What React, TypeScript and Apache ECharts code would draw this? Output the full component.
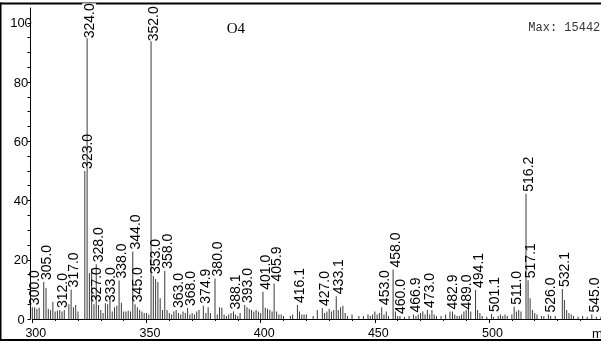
import React, { useEffect, useRef } from "react";
import * as echarts from "echarts";

// m/z of every peak drawn
const mzValues = [
  300.0, 301, 302, 303, 305.0, 306, 307, 308, 309, 310, 311, 312.0, 313, 314, 316, 317.0, 318, 319, 320,
  323.0, 324.0, 325, 326, 327.0, 328.0, 329, 330, 331, 332, 333.0, 334, 335, 336, 337, 338.0, 339, 340,
  341, 342, 343, 344.0, 345.0, 346, 347, 348, 349, 350, 351, 352.0, 353.0, 354, 355, 356, 357, 358.0,
  359, 360, 361, 362, 363.0, 364, 365, 366, 367, 368.0, 369, 370, 371, 372, 373, 374.9, 376, 377, 378,
  380.0, 381, 382, 383, 384, 385, 386, 387, 388.1, 389, 390, 391, 393.0, 394, 395, 396, 397, 398, 399,
  400, 401.0, 402, 403, 404, 405, 405.9, 407, 408, 409, 410, 413, 414, 416.1, 417, 418, 419, 420, 423,
  424.8, 427.0, 428, 429, 430, 431, 432, 433.1, 434, 435, 436, 437, 438, 440, 443, 445, 447, 448, 449,
  450, 451, 452, 453.0, 454, 455, 456, 458.0, 459, 460.0, 461, 463, 465, 466.9, 468, 469, 470, 471, 472,
  473.0, 474, 475, 476, 477, 479, 481, 482.9, 484, 485, 486, 487, 488, 489.0, 490, 491, 492, 494.1, 495,
  496, 497, 499, 501.1, 502, 504, 505, 506, 507, 508, 510, 511.0, 512, 513, 514, 516.2, 517.1, 518, 519,
  520, 521, 523, 524, 526.0, 527, 529, 532.1, 533, 534, 535, 536, 537, 539, 541, 543, 545.0, 547, 549,
];

// relative abundance (%) of each peak, same order as mzValues
const abundances = [
  4, 4, 3.5, 3.8, 12.5, 10.5, 3.5, 3, 5.8, 2.5, 2.8, 3, 2.5, 3, 5, 10, 4, 4.7, 2.5,
  50, 100, 15.5, 17, 5, 18.5, 4.7, 3, 2, 5.3, 5, 7.5, 2.5, 4, 4.5, 13, 5.5, 2.5,
  2.5, 2.8, 2.5, 22.8, 5, 4, 3, 2.5, 2, 2, 1.5, 99, 14.5, 13.5, 12.5, 7, 3, 16.3,
  3, 2, 1.5, 2.5, 3, 2, 1.5, 2.5, 2, 3.7, 1.5, 2, 1.5, 2.5, 3, 4.5, 2, 4, 2,
  13.7, 1.5, 4, 3.8, 1.5, 1, 1.5, 2, 2.5, 1.5, 1, 2, 4.7, 4, 3.5, 3, 2.5, 3, 2.5,
  2, 9.2, 3.8, 3.5, 3, 2.5, 12, 2.5, 1.5, 1.5, 1, 1, 1.5, 4.7, 2.5, 1.5, 1.5, 1.5, 1,
  3, 3.7, 2, 2.5, 3.5, 2.5, 3, 7.7, 3, 4, 4.5, 2, 1, 1.5, 1, 1, 1.5, 1, 1.5,
  2.5, 1.5, 2, 4, 1.5, 2.5, 1, 16.7, 2.5, 1, 1, 0.8, 1, 1.5, 1, 1.5, 2, 2.5, 1.5,
  3, 1.5, 3, 1.5, 1, 1, 1.5, 2.5, 2.5, 1.5, 1, 1, 1.5, 2.5, 3, 3.5, 2.5, 9.8, 3,
  2, 1, 0.8, 1.7, 0.8, 1, 1.5, 1, 1.5, 1, 1.5, 4.1, 2.5, 3, 2.5, 42.3, 13.1, 7, 3,
  2, 1.5, 1, 1, 1.5, 1, 1, 10.1, 6.4, 3, 2, 1.5, 1, 0.8, 1, 0.8, 1.5, 0.8, 0.8,
];

// peaks carrying an m/z annotation
const labeledPeaks = [
  300.0, 305.0, 312.0, 317.0, 323.0, 324.0, 327.0, 328.0, 333.0, 338.0, 344.0, 345.0, 352.0, 353.0,
  358.0, 363.0, 368.0, 374.9, 380.0, 388.1, 393.0, 401.0, 405.9, 416.1, 427.0, 433.1, 453.0, 458.0,
  460.0, 466.9, 473.0, 482.9, 489.0, 494.1, 501.1, 511.0, 516.2, 517.1, 526.0, 532.1, 545.0,
];
// annotations pushed down inside the frame (base peaks)
const clampedLabels = [324.0, 352.0];

const yLabelStep = 20;
const titleText = "O4";
const maxText = "Max: 15442";
const axisNameText = "m/z-->";

export default function App() {
  const ref = useRef<HTMLDivElement>(null);
  useEffect(() => {
    document.body.style.margin = "0";
    document.body.style.overflow = "hidden";
    const chart = echarts.init(ref.current!, null, { renderer: "svg" });
    const data = mzValues.map((mz, i) => {
      const item: any = { value: [mz, abundances[i]] };
      if (labeledPeaks.includes(mz)) {
        item.label = { show: true };
        if (clampedLabels.includes(mz)) {
          item.label = { show: true, position: [2.5, 15.5], backgroundColor: "#fff" };
        }
      }
      return item;
    });
    chart.setOption({
      animation: false,
      grid: { left: 32.3, right: 0.8, top: 8, bottom: 24 },
      xAxis: {
        type: "value",
        min: 300,
        max: 550,
        interval: 50,
        axisLine: { onZero: false, lineStyle: { color: "#000", width: 1 } },
        axisTick: { show: true, length: 4, lineStyle: { color: "#000" } },
        minorTick: { show: true, splitNumber: 5, length: 2, lineStyle: { color: "#000" } },
        axisLabel: {
          margin: 7,
          fontSize: 12.5,
          color: "#000",
          fontFamily: "Liberation Sans, Arial",
          showMaxLabel: false,
          padding: [0, 0, 0, 7],
        },
        splitLine: { show: false },
      },
      yAxis: {
        type: "value",
        min: 0,
        max: 105,
        interval: 5,
        offset: 1.8,
        axisLine: { show: true, lineStyle: { color: "#000", width: 1 } },
        axisTick: { show: true, length: 3, lineStyle: { color: "#000" } },
        axisLabel: {
          formatter: (v: number) => (v % yLabelStep === 0 ? String(v) : ""),
          align: "center",
          margin: 9.5,
          fontSize: 13,
          color: "#000",
          fontFamily: "Liberation Sans, Arial",
          showMaxLabel: false,
        },
        splitLine: { show: false },
      },
      series: [
        {
          type: "bar",
          barWidth: 1,
          data,
          itemStyle: { color: "#3a3a3a" },
          label: {
            show: false,
            rotate: 90,
            position: [2.5, -2],
            align: "left",
            verticalAlign: "middle",
            fontSize: 14,
            fontFamily: "Liberation Sans, Arial",
            color: "#000",
            formatter: (p: any) => Number(p.value[0]).toFixed(1),
          },
        },
      ],
      graphic: [
        { type: "rect", shape: { x: 0, y: 2.5, width: 604, height: 2 }, style: { fill: "#000" } },
        { type: "rect", shape: { x: 0, y: 339, width: 604, height: 2 }, style: { fill: "#000" } },
        { type: "rect", shape: { x: 0, y: 2.5, width: 1.5, height: 338.5 }, style: { fill: "#000" } },
        {
          type: "text",
          x: 226.7,
          y: 28.3,
          style: { text: titleText, font: "15px 'Liberation Serif', 'Times New Roman', serif", fill: "#000", verticalAlign: "middle" },
        },
        {
          type: "text",
          x: 528.3,
          y: 28.2,
          style: { text: maxText, font: "12px 'Liberation Mono', 'Courier New', monospace", fill: "#333", verticalAlign: "middle" },
        },
        {
          type: "text",
          x: 592,
          y: 333,
          style: { text: axisNameText, font: "13px 'Liberation Sans', Arial, sans-serif", fill: "#000", verticalAlign: "middle" },
        },
      ],
    });
    return () => chart.dispose();
  }, []);
  return <div ref={ref} style={{ position: "fixed", left: 0, top: 0, width: 604, height: 343 }} />;
}
